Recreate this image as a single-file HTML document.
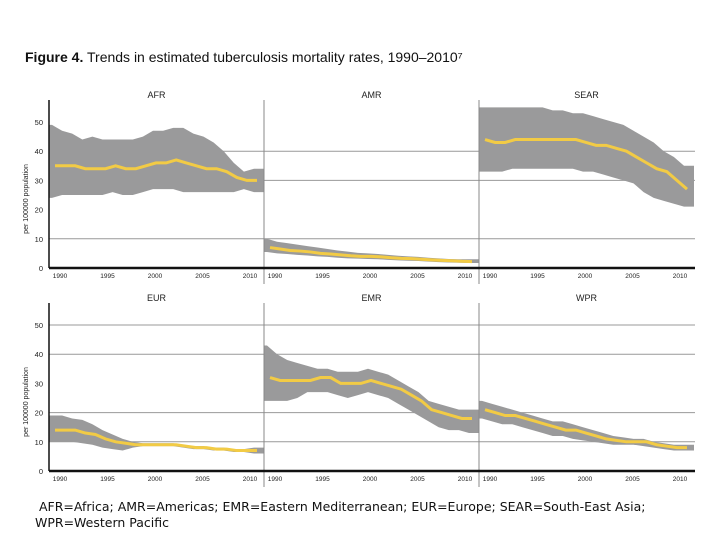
<!DOCTYPE html>
<html><head><meta charset="utf-8"><style>
body{margin:0;background:#fff;width:720px;height:540px;overflow:hidden;font-family:"Liberation Sans",sans-serif}
svg{position:absolute;left:0;top:0}
.foot{position:absolute;left:35px;top:499px;font-family:"DejaVu Sans",sans-serif;font-size:12.5px;line-height:16px;color:#111}
</style></head><body>
<svg id="c" width="720" height="540"></svg>
<div class="foot">&nbsp;AFR=Africa; AMR=Americas; EMR=Eastern Mediterranean; EUR=Europe; SEAR=South-East Asia;<br>WPR=Western Pacific</div>
<script>
const regions=["AFR","AMR","SEAR","EUR","EMR","WPR"];
const years=[1990,1991,1992,1993,1994,1995,1996,1997,1998,1999,2000,2001,2002,2003,2004,2005,2006,2007,2008,2009,2010];
const yTicks=[0,10,20,30,40,50];
const xTicks=[1990,1995,2000,2005,2010];
const afrMid=[35,35,35,34,34,34,35,34,34,35,36,36,37,36,35,34,34,33,31,30,30];
const afrLow=[24,25,25,25,25,25,26,25,25,26,27,27,27,26,26,26,26,26,26,27,26];
const afrHigh=[49,47,46,44,45,44,44,44,44,45,47,47,48,48,46,45,43,40,36,33,34];
const amrMid=[7,6.5,6,5.8,5.5,5,4.8,4.5,4.2,4,4,3.8,3.5,3.3,3.2,3,2.8,2.6,2.5,2.3,2.2];
const amrLow=[5.5,5,4.8,4.5,4.3,4,3.8,3.5,3.3,3.2,3.1,3,2.8,2.6,2.5,2.4,2.2,2,1.9,1.8,1.7];
const amrHigh=[10,9,8.5,8,7.5,7,6.5,6,5.6,5.2,5,4.8,4.5,4.2,4,3.8,3.5,3.3,3.1,3,3];
const searMid=[44,43,43,44,44,44,44,44,44,44,43,42,42,41,40,38,36,34,33,30,27];
const searLow=[33,33,33,34,34,34,34,34,34,34,33,33,32,31,30,29,26,24,23,22,21];
const searHigh=[55,55,55,55,55,55,55,54,54,53,53,52,51,50,49,47,45,43,40,38,35];
const eurMid=[14,14,14,13,12.5,11,10,9.5,9,9,9,9,9,8.5,8,8,7.5,7.5,7,7,7];
const eurLow=[10,10,10,9.5,9,8,7.5,7,8,8.5,8.5,8.5,8.5,8,7.5,7.5,7,7,6.5,6.5,6];
const eurHigh=[19,19,18,17.5,16,14,12.5,11,10,9.5,9.5,9.5,9.5,9,8.5,8.5,8,8,7.5,7.5,8];
const emrMid=[32,31,31,31,31,32,32,30,30,30,31,30,29,28,26,24,21,20,19,18,18];
const emrLow=[24,24,24,25,27,27,27,26,25,26,27,26,25,23,21,19,17,15,14,14,13];
const emrHigh=[43,40,38,37,36,35,35,34,34,34,35,34,33,31,29,27,24,23,22,21,21];
const wprMid=[21,20,19,19,18,17,16,15,14,14,13,12,11,10.5,10,10,10,9,8.5,8,8];
const wprLow=[18,17,16,16,15,14,13,12,12,11,10.5,10,9.5,9,9,9,8.5,8,7.5,7,7];
const wprHigh=[24,23,22,21,20,19,18,17,17,16,15,14,13,12,11.5,11,11,10,9.5,9,9];
const mids=[afrMid,amrMid,searMid,eurMid,emrMid,wprMid];
const lows=[afrLow,amrLow,searLow,eurLow,emrLow,wprLow];
const highs=[afrHigh,amrHigh,searHigh,eurHigh,emrHigh,wprHigh];
const NS="http://www.w3.org/2000/svg",svg=document.getElementById('c');
function mk(t,a,p){const e=document.createElementNS(NS,t);for(const k in a)e.setAttribute(k,a[k]);(p||svg).appendChild(e);return e;}
const lefts=[49,264,479],pw=215;
const rows=[{zero:268,top:100},{zero:471,top:303}];
const grids=[[10,30,40],[10,20,40,50]];
function yS(r,v){return rows[r].zero-v*2.92;}
function xS(c,yr){return lefts[c]+3+(yr-1990)*10.1;}
function xL(c,yr){return lefts[c]+11+(yr-1990)*9.5;}
const t=mk('text',{x:25,y:62,'font-size':14,fill:'#111'});

t.innerHTML='<tspan font-weight="bold">Figure 4.</tspan> Trends in estimated tuberculosis mortality rates, 1990–2010⁷';
for(let r=0;r<2;r++){
  grids[r].forEach(v=>{const g=mk('line',{x1:49,x2:695,y1:yS(r,v),y2:yS(r,v),stroke:'#999','stroke-width':1});
    });
  yTicks.forEach(v=>{const l=mk('text',{x:43,y:yS(r,v)+3,'font-size':7.5,'text-anchor':'end',fill:'#222'});l.textContent=v;
    });
  const yt=mk('text',{transform:`translate(28,${(rows[r].zero+rows[r].top)/2+15}) rotate(-90)`,'font-size':7,'text-anchor':'middle',fill:'#222'});
  yt.textContent='per 100000 population';
  
}
for(let i=0;i<6;i++){
  const r=Math.floor(i/3),c=i%3,L=lefts[c];
  const g=mk('g',{});
  let d='';years.forEach((y,k)=>{d+=(k?'L':'M')+xS(c,y)+','+yS(r,highs[i][k]);});
  d+='L'+(L+pw)+','+yS(r,highs[i][20]);d+='L'+(L+pw)+','+yS(r,lows[i][20]);
  for(let k=20;k>=0;k--)d+='L'+xS(c,years[k])+','+yS(r,lows[i][k]);
  d+='L'+L+','+yS(r,lows[i][0])+'L'+L+','+yS(r,highs[i][0])+'Z';
  const b=mk('path',{d:d,fill:'#9a9a9b'},g);
  const pts=years.map((y,k)=>(xS(c,y)+3)+','+yS(r,mids[i][k])).join(' ');
  const ln=mk('polyline',{points:pts,fill:'none',stroke:'#f2cb45','stroke-width':3},g);
  
  const tt=mk('text',{x:L+pw/2,y:rows[r].top-2,'font-size':9,'text-anchor':'middle',fill:'#222'},g);tt.textContent=regions[i];
  
  xTicks.forEach(y=>{const l=mk('text',{x:xL(c,y),y:rows[r].zero+10,'font-size':6.5,'text-anchor':'middle',fill:'#222'},g);l.textContent=y;
    });
}
for(let r=0;r<2;r++){
  [264,479].forEach(x=>{const v=mk('line',{x1:x,x2:x,y1:rows[r].top,y2:rows[r].zero+16,stroke:'#888','stroke-width':1});
    });
  const ax=mk('line',{x1:49,x2:695,y1:rows[r].zero,y2:rows[r].zero,stroke:'#111','stroke-width':2.5});
  
  const ay=mk('line',{x1:49,x2:49,y1:rows[r].top,y2:rows[r].zero,stroke:'#111','stroke-width':1.5});
  
}
</script>
</body></html>
